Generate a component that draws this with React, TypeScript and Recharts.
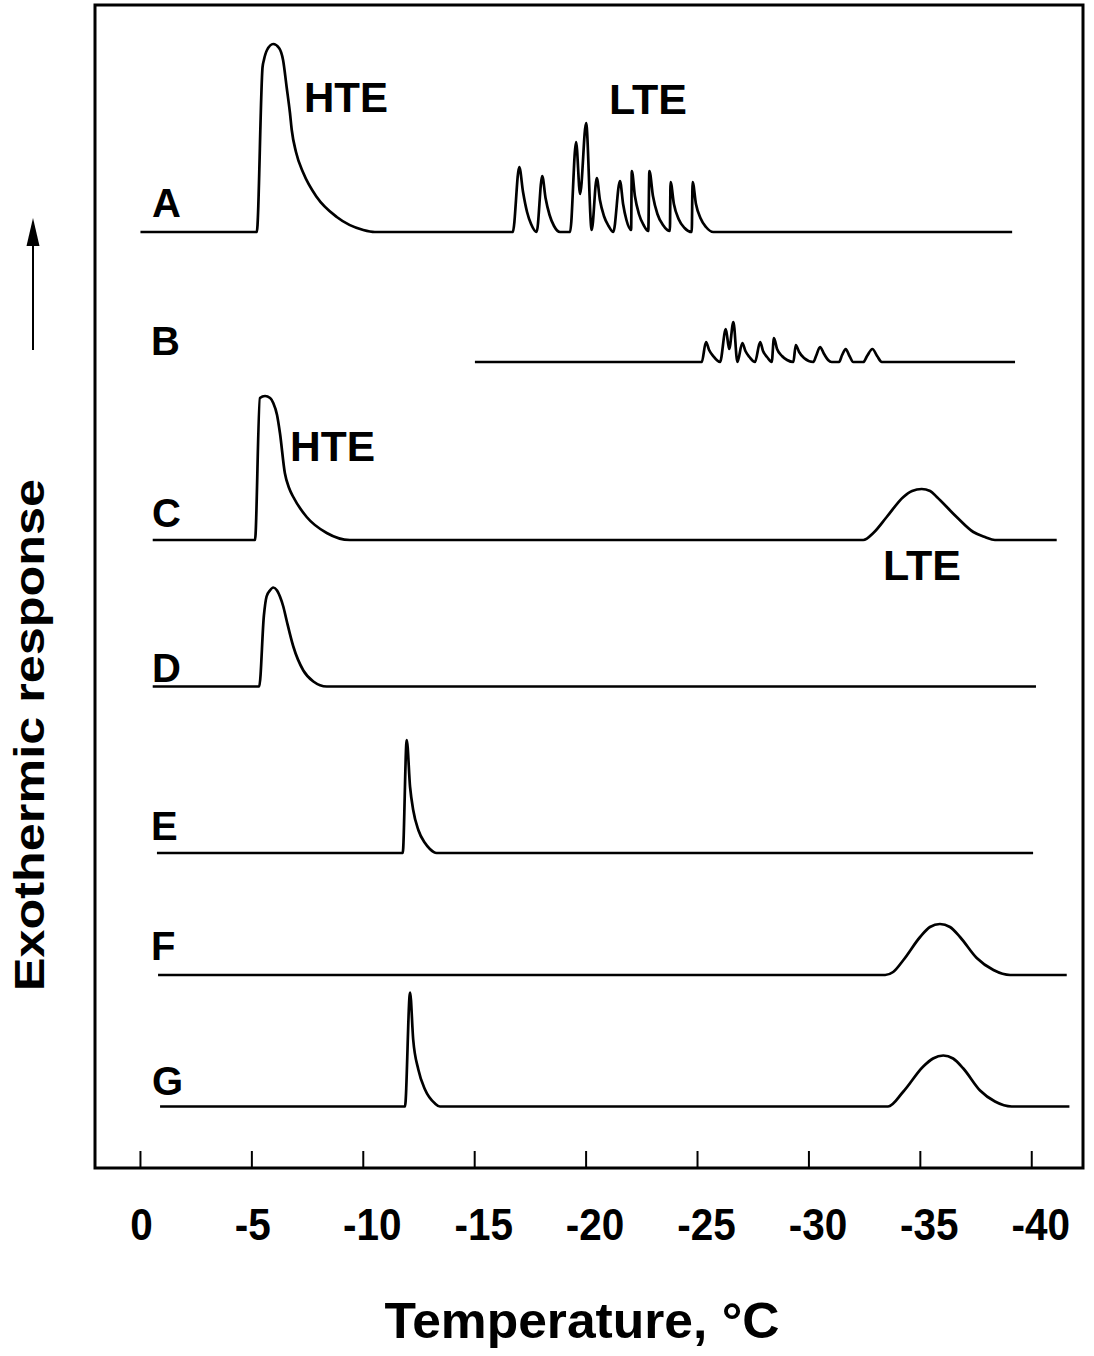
import React from "react";
import { LineChart, Line, XAxis, YAxis, ReferenceArea } from "recharts";

// temperature (°C) vs exothermic response (arbitrary units above each trace's baseline)
const tempTicks = [0, -5, -10, -15, -20, -25, -30, -35, -40];
const traceNames = ["A", "B", "C", "D", "E", "F", "G"];
const traceOffsets = [936, 806, 628, 481.5, 315, 193, 61.5];

const traceA: [number, number][] = [
  [0.0, 0], [-5.22, 0], [-5.48, 165], [-5.54, 172], [-5.68, 182], [-5.96, 188], [-6.22, 184],
  [-6.4, 172], [-6.56, 145], [-6.71, 119], [-6.79, 102], [-6.98, 80], [-7.31, 59], [-7.91, 35],
  [-8.81, 15], [-10.0, 2], [-10.52, 0],
  [-16.71, 0], [-17.0, 65], [-17.17, 40], [-17.35, 20], [-17.53, 8], [-17.78, 0],
  [-18.03, 56], [-18.18, 34], [-18.36, 17], [-18.56, 6], [-18.83, 0],
  [-19.28, 0], [-19.55, 90], [-19.73, 38], [-20.0, 109], [-20.25, 2],
  [-20.48, 54], [-20.62, 32], [-20.8, 16], [-21.01, 6], [-21.22, 0],
  [-21.52, 51], [-21.66, 28], [-21.81, 12], [-22.02, 2],
  [-22.05, 61], [-22.19, 36], [-22.37, 18], [-22.58, 7], [-22.79, 1],
  [-22.84, 61], [-23.0, 36], [-23.2, 18], [-23.45, 7], [-23.76, 1],
  [-23.79, 50], [-23.94, 28], [-24.15, 13], [-24.42, 4], [-24.74, 0],
  [-24.78, 50], [-24.93, 28], [-25.13, 14], [-25.38, 5], [-25.71, 0],
  [-39.12, 0],
];

const traceB: [number, number][] = [
  [-15.01, 0], [-25.19, 0], [-25.38, 20], [-25.52, 12], [-25.7, 6], [-26.01, 0],
  [-26.27, 33], [-26.42, 13], [-26.61, 40], [-26.79, 0],
  [-27.01, 19], [-27.15, 11], [-27.33, 5], [-27.58, 0],
  [-27.81, 20], [-27.94, 11], [-28.12, 5], [-28.33, 0],
  [-28.43, 24], [-28.57, 13], [-28.79, 6], [-29.02, 2], [-29.3, 0],
  [-29.41, 17], [-29.56, 10], [-29.78, 4], [-30.2, 0],
  [-30.32, 6], [-30.5, 15], [-30.68, 8], [-30.86, 2], [-31.02, 0],
  [-31.35, 0], [-31.49, 7], [-31.65, 13], [-31.82, 6], [-31.99, 0],
  [-32.44, 0], [-32.61, 6], [-32.85, 13], [-33.06, 6], [-33.27, 0],
  [-39.25, 0],
];

const traceC: [number, number][] = [
  [-0.55, 0], [-5.14, 0], [-5.36, 142], [-5.59, 144], [-5.82, 142], [-5.96, 137], [-6.13, 125],
  [-6.26, 107], [-6.48, 67], [-6.67, 52], [-6.86, 43], [-7.46, 23], [-8.36, 7], [-9.4, 0],
  [-32.44, 0], [-32.89, 7], [-33.49, 23], [-34.24, 43], [-34.63, 49], [-35.06, 51], [-35.44, 49],
  [-35.74, 43], [-36.63, 23], [-37.38, 8], [-37.9, 3], [-38.35, 0], [-41.12, 0],
];

const traceD: [number, number][] = [
  [-0.55, 0], [-5.33, 0], [-5.54, 71], [-5.66, 90], [-5.81, 96], [-5.96, 99], [-6.13, 96],
  [-6.26, 90], [-6.41, 80], [-6.56, 66], [-6.86, 40], [-7.31, 16], [-7.76, 5], [-8.36, 0],
  [-40.19, 0],
];

const traceE: [number, number][] = [
  [-0.74, 0], [-11.77, 0], [-11.95, 113], [-12.1, 66], [-12.24, 43], [-12.47, 23], [-12.77, 10],
  [-12.99, 4], [-13.29, 0], [-40.06, 0],
];

const traceF: [number, number][] = [
  [-0.79, 0], [-33.42, 0], [-33.78, 3], [-34.24, 15], [-34.99, 38], [-35.43, 48], [-35.88, 51],
  [-36.33, 48], [-36.78, 38], [-37.53, 17], [-38.28, 5], [-39.03, 0], [-41.57, 0],
];

const traceG: [number, number][] = [
  [-0.88, 0], [-11.87, 0], [-12.1, 114], [-12.24, 67], [-12.47, 37], [-12.77, 17], [-13.22, 3],
  [-13.44, 0], [-33.55, 0], [-34.24, 15], [-35.13, 40], [-35.57, 48], [-36.03, 51], [-36.47, 48],
  [-36.93, 38], [-37.68, 16], [-38.35, 5], [-39.1, 0], [-41.69, 0],
];

const traces = [traceA, traceB, traceC, traceD, traceE, traceF, traceG];

const FONT = "'Liberation Sans', Arial, Helvetica, sans-serif";

const toRows = (pts: [number, number][], offset: number) =>
  pts.map(([t, h]) => ({ t, y: offset + h }));

// tick marks point up into the frame, labels sit well below it
const TempTick = (props: any) => {
  const { x, payload } = props;
  const v = payload.value as number;
  const label = String(v);
  const shift = Math.abs(v) >= 10 ? 9 : 1;
  const digits = label.replace("-", "").length;
  const natural = (digits * 0.556 + (v < 0 ? 0.333 : 0)) * 45;
  return (
    <g>
      <line x1={x} x2={x} y1={1168} y2={1151} stroke="#000" strokeWidth={2} />
      <text
        x={x + shift}
        y={1240}
        textAnchor="middle"
        fontSize={45}
        fontWeight="bold"
        fontFamily={FONT}
        fill="#000"
        textLength={natural * 0.9}
        lengthAdjust="spacingAndGlyphs"
      >
        {label}
      </text>
    </g>
  );
};

const letterPos: [number, number][] = [
  [152, 217], [151, 355], [152, 527], [152, 682], [151, 840], [151, 960], [152, 1095],
];

export default function App() {
  return (
    <div style={{ position: "absolute", left: 0, top: 0, width: 1094, height: 1356, background: "#fff" }}>
      <LineChart
        width={1094}
        height={1356}
        margin={{ top: 5, right: 11, bottom: 128, left: 95 }}
      >
        <XAxis
          type="number"
          dataKey="t"
          domain={[-42.3, 2.04]}
          reversed
          allowDataOverflow
          ticks={tempTicks}
          interval={0}
          height={60}
          axisLine={false}
          tickLine={false}
          tick={<TempTick />}
        />
        <YAxis type="number" domain={[0, 1163]} hide allowDataOverflow />
        <ReferenceArea
          x1={-42.3}
          x2={2.04}
          y1={0}
          y2={1163}
          fill="none"
          stroke="#000"
          strokeWidth={3}
          ifOverflow="visible"
        />
        {traces.map((pts, i) => (
          <Line
            key={traceNames[i]}
            data={toRows(pts, traceOffsets[i])}
            dataKey="y"
            type="monotone"
            stroke="#000"
            strokeWidth={2.7}
            dot={false}
            activeDot={false}
            isAnimationActive={false}
          />
        ))}
      </LineChart>
      <svg
        width={1094}
        height={1356}
        style={{ position: "absolute", left: 0, top: 0, pointerEvents: "none" }}
        fontFamily={FONT}
        fontWeight="bold"
      >
        {traceNames.map((n, i) => (
          <text key={n} x={letterPos[i][0]} y={letterPos[i][1]} fontSize={40}>
            {n}
          </text>
        ))}
        <text x={304} y={112} fontSize={42} textLength={84} lengthAdjust="spacingAndGlyphs">HTE</text>
        <text x={609} y={114} fontSize={42} textLength={78} lengthAdjust="spacingAndGlyphs">LTE</text>
        <text x={290} y={461} fontSize={42} textLength={85} lengthAdjust="spacingAndGlyphs">HTE</text>
        <text x={883} y={580} fontSize={42} textLength={78} lengthAdjust="spacingAndGlyphs">LTE</text>
        <text
          x={582}
          y={1338}
          fontSize={50}
          textAnchor="middle"
          textLength={395}
          lengthAdjust="spacingAndGlyphs"
        >
          Temperature, °C
        </text>
        <text
          transform="translate(44,735) rotate(-90)"
          fontSize={42}
          textAnchor="middle"
          textLength={512}
          lengthAdjust="spacingAndGlyphs"
        >
          Exothermic response
        </text>
        <line x1={33} x2={33} y1={350} y2={240} stroke="#000" strokeWidth={2} />
        <polygon points="33,218 26.5,246 39.5,246" fill="#000" />
      </svg>
    </div>
  );
}
